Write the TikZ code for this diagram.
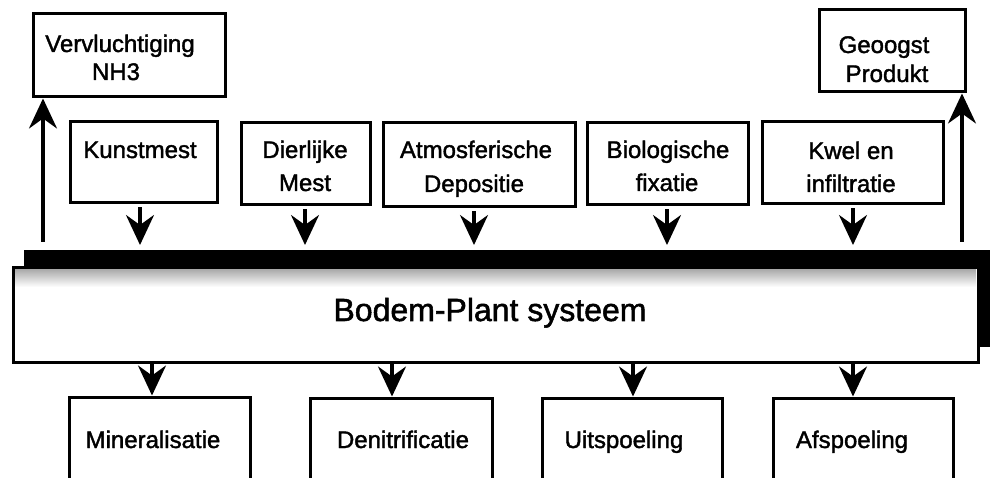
\documentclass[tikz,border=0pt]{standalone}
\usepackage{fontspec}
\setmainfont{Liberation Sans}[FakeBold=1.6]
\usetikzlibrary{arrows.meta,calc}
\begin{document}
\begin{tikzpicture}[x=1pt,y=-1pt,
  box/.style={draw, line width=3pt, rectangle, inner sep=0pt},
  lbl/.style={anchor=base, inner sep=0pt, font=\fontsize{24}{31}\selectfont},
  flow/.style={line width=3.2pt, -{Stealth[length=30pt,width=28pt,inset=10pt]}}]
\useasboundingbox (0,0) rectangle (991,478);
\clip (0,0) rectangle (991,478);

% output boxes at the top
\node[box, minimum width=192pt, minimum height=83pt] (vervl) at (129,55.5) {};
\node[box, minimum width=146pt, minimum height=82pt] (geo) at (892,51) {};
\node[lbl] (vervlA) at (120,52) {Vervluchtiging};
\node[lbl] (vervlB) at (116,80) {NH3};
\node[lbl] (geoA) at (884,53) {Geoogst};
\node[lbl] (geoB) at (887,82) {Produkt};

% input boxes
\node[box, minimum width=147pt, minimum height=81pt] (kunst) at (143.5,162.5) {};
\node[box, minimum width=129pt, minimum height=82pt] (dier) at (305.5,164) {};
\node[box, minimum width=192pt, minimum height=84pt] (atmo) at (479,165) {};
\node[box, minimum width=161pt, minimum height=82pt] (bio) at (667.5,164) {};
\node[box, minimum width=181pt, minimum height=82pt] (kwel) at (852.5,163) {};

\node[lbl] (kunstA) at (140,158) {Kunstmest};
\node[lbl] (dierA) at (305,158) {Dierlijke};
\node[lbl] (dierB) at (305,191) {Mest};
\node[lbl] (atmoA) at (476,158) {Atmosferische};
\node[lbl] (atmoB) at (474,192) {Depositie};
\node[lbl] (bioA) at (668,158) {Biologische};
\node[lbl] (bioB) at (667,191) {fixatie};
\node[lbl] (kwelA) at (851,159) {Kwel en};
\node[lbl] (kwelB) at (851,192) {infiltratie};

% soil-plant system with its heavy shadow
\node[fill=black, inner sep=0pt, minimum width=966pt, minimum height=97pt] (shadow) at (507,298.5) {};
\node[box, fill=white, minimum width=965pt, minimum height=95pt] (plant) at (495.5,315.5) {};
\shade[top color=black!32, bottom color=white] (15,270) rectangle (976,287);
\node[anchor=base, inner sep=0pt, font=\fontsize{32}{38}\selectfont] (plantT) at (490,321) {Bodem-Plant systeem};

% loss boxes at the bottom
\node[box, minimum width=181pt, minimum height=98pt] (minb) at (159.5,446) {};
\node[box, minimum width=182pt, minimum height=98pt] (deni) at (401,447) {};
\node[box, minimum width=180pt, minimum height=98pt] (uits) at (632,447) {};
\node[box, minimum width=180pt, minimum height=98pt] (afsp) at (863,447) {};
\node[lbl] (minT) at (153,448) {Mineralisatie};
\node[lbl] (deniT) at (403,448) {Denitrificatie};
\node[lbl] (uitsT) at (624,448) {Uitspoeling};
\node[lbl] (afspT) at (852,448) {Afspoeling};

% upward flows
\coordinate (up1) at (43,242);
\coordinate (up2) at (962,242);
\draw[flow] (up1) -- (up1 |- vervl.south);
\draw[flow] (up2) -- (up2 |- geo.south);

% inputs into the system
\coordinate (in1) at (140,245);
\coordinate (in2) at (305,245);
\coordinate (in3) at (474,245);
\coordinate (in4) at (667,245);
\coordinate (in5) at (853,245);
\draw[flow] ($(in1 |- kunst.south)+(0,3)$) -- (in1);
\draw[flow] ($(in2 |- dier.south)+(0,3)$) -- (in2);
\draw[flow] ($(in3 |- atmo.south)+(0,3)$) -- (in3);
\draw[flow] ($(in4 |- bio.south)+(0,3)$) -- (in4);
\draw[flow] ($(in5 |- kwel.south)+(0,3)$) -- (in5);

% losses out of the system
\coordinate (out1) at (152,0);
\coordinate (out2) at (392,0);
\coordinate (out3) at (633,0);
\coordinate (out4) at (853,0);
\draw[flow] (out1 |- plant.south) -- (out1 |- minb.north);
\draw[flow] (out2 |- plant.south) -- (out2 |- deni.north);
\draw[flow] (out3 |- plant.south) -- (out3 |- uits.north);
\draw[flow] (out4 |- plant.south) -- (out4 |- afsp.north);
\end{tikzpicture}
\end{document}
